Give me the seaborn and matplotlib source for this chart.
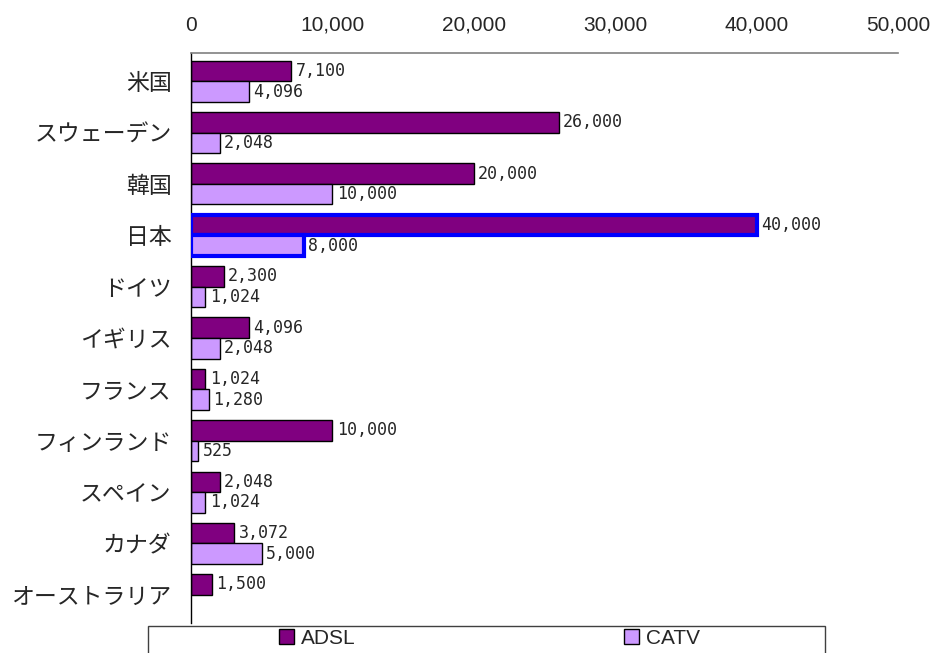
import matplotlib
matplotlib.use("Agg")
import matplotlib.pyplot as plt
from matplotlib.patches import Patch, Rectangle
import pandas as pd
import seaborn as sns

# Broadband subscriber comparison (ADSL vs CATV) by country
countries = ["米国", "スウェーデン", "韓国", "日本", "ドイツ", "イギリス",
             "フランス", "フィンランド", "スペイン", "カナダ", "オーストラリア"]
adsl = [7100, 26000, 20000, 40000, 2300, 4096, 1024, 10000, 2048, 3072, 1500]
catv = [4096, 2048, 10000, 8000, 1024, 2048, 1280, 525, 1024, 5000, None]
series = ["ADSL", "CATV"]
xticks = [0, 10000, 20000, 30000, 40000, 50000]
highlight = "日本"

palette = {"ADSL": "#800080", "CATV": "#CC99FF"}

df = pd.DataFrame({"country": countries, "ADSL": adsl, "CATV": catv})
long = df.melt(id_vars="country", value_vars=series,
               var_name="type", value_name="value").dropna()

sns.set_style("white")
plt.rcParams["font.family"] = ["Noto Sans CJK JP", "DejaVu Sans"]

fig = plt.figure(figsize=(9.35, 6.53), dpi=100)
ax = fig.add_axes([191 / 935, 1 - 623 / 653, (898 - 191) / 935, (623 - 53) / 653])

sns.barplot(data=long, y="country", x="value", hue="type", order=countries,
            hue_order=series, palette=palette, orient="h", width=0.8,
            saturation=1, legend=False, ax=ax, edgecolor="black", linewidth=1)

num_font = dict(family=["DejaVu Sans Mono"], size=12)
hi_idx = countries.index(highlight)
for cont in ax.containers:
    labels = [f"{v:,.0f}" for v in cont.datavalues]
    ax.bar_label(cont, labels=labels, padding=3, **num_font)
    for bar in cont:
        yc = bar.get_y() + bar.get_height() / 2
        if abs(yc - hi_idx) < 0.5:
            bar.set_edgecolor("#0000FF")
            bar.set_linewidth(3)
            bar.set_zorder(3)

ax.set_xlim(0, 50000)
ax.set_ylim(10.55, -0.55)
ax.xaxis.tick_top()
ax.set_xticks(xticks)
ax.set_xticklabels([f"{t:,}" for t in xticks],
                   family=["Liberation Sans", "DejaVu Sans"], fontsize=15)
ax.tick_params(axis="x", length=0, pad=13)
ax.tick_params(axis="y", length=0, pad=14, labelsize=16.5)
ax.set_xlabel("")
ax.set_ylabel("")

for s in ["right", "bottom"]:
    ax.spines[s].set_visible(False)
ax.spines["top"].set_color("#808080")
ax.spines["top"].set_linewidth(1.2)
ax.spines["left"].set_color("black")
ax.spines["left"].set_linewidth(1)

# legend box along the bottom edge
fig.patches.append(Rectangle((148 / 935, -0.05), (825 - 148) / 935, 1 - 626 / 653 + 0.05,
                             transform=fig.transFigure, fill=False,
                             edgecolor="#404040", linewidth=1))
handles = [Patch(facecolor=palette[s], edgecolor="black", linewidth=1, label=s)
           for s in series]
fig.legend(handles=handles, loc="upper left", bbox_to_anchor=(279 / 935, 1 - 629 / 653),
           ncol=2, frameon=False, borderpad=0, borderaxespad=0,
           handlelength=0.7, handleheight=0.7, handletextpad=0.35,
           columnspacing=12.9,
           prop=dict(family=["Liberation Sans", "DejaVu Sans"], size=15))

fig.savefig("out.png", dpi=100)
